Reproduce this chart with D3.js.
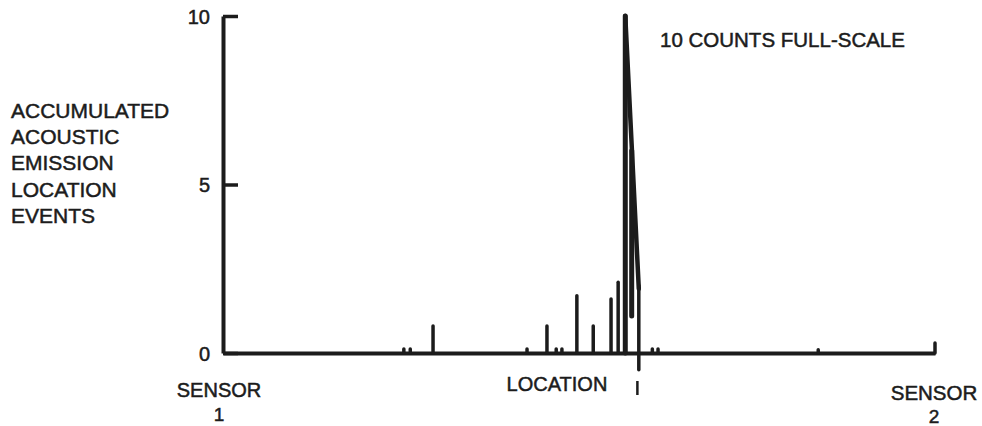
<!DOCTYPE html>
<html>
<head>
<meta charset="utf-8">
<script src="https://cdn.jsdelivr.net/npm/d3@7"></script>
<style>
  body { margin: 0; background: #ffffff; }
  svg text { font-family: "Liberation Sans", Arial, Helvetica, sans-serif; fill: #1c1c1c; stroke: #1c1c1c; stroke-width: 0.5px; }
</style>
</head>
<body>
<div id="chart"></div>
<script>
// location along the pipe, 0 = sensor 1, 100 = sensor 2
var spikeLoc  = [25.4, 26.3, 29.5, 42.7, 45.5, 46.8, 47.6, 49.7, 52.0, 54.5, 55.5, 56.5, 57.4, 58.4, 60.3, 61.1, 83.6, 100];
// accumulated events (top of each spike)
var spikeTop  = [0.12, 0.12, 0.8, 0.12, 0.8, 0.12, 0.12, 1.7, 0.8, 1.6, 2.1, 10, 6.0, 2.0, 0.12, 0.12, 0.1, 0.3];
// bottom of each spike (most start on the baseline)
var spikeBase = [0, 0, 0, 0, 0, 0, 0, 0, 0, 0, 0, 0, 1.1, -0.5, 0, 0, 0, 0];

// outline of the main peak
var envelopeLoc = [56.5, 58.4];
var envelopeVal = [10, 1.9];

var yTicks = [0, 5, 10];
var yTitle = ["ACCUMULATED", "ACOUSTIC", "EMISSION", "LOCATION", "EVENTS"];

var width = 982, height = 426;
var ink = "#1c1c1c";

var svg = d3.select("#chart").append("svg")
  .attr("width", width)
  .attr("height", height);

var x = d3.scaleLinear().domain([0, 100]).range([223, 935]);
var y = d3.scaleLinear().domain([0, 10]).range([353, 16]);

// y axis, ticks point into the plot
var yAxis = d3.axisLeft(y)
  .tickValues(yTicks)
  .tickSizeInner(-15)
  .tickSizeOuter(0)
  .tickPadding(13)
  .tickFormat(d3.format("d"));

var gy = svg.append("g")
  .attr("transform", "translate(" + x(0) + ",0)")
  .call(yAxis);
gy.select(".domain").attr("stroke", ink).attr("stroke-width", 4);
gy.selectAll(".tick line").attr("stroke", ink).attr("stroke-width", 3.5);
gy.selectAll(".tick text")
  .attr("font-size", "20px")
  .attr("dy", "0.36em")
  .style("font-family", "'Liberation Sans', Arial, sans-serif")
  .attr("fill", ink);

// baseline (location axis)
var xAxis = d3.axisBottom(x).tickValues([]).tickSizeOuter(0);
var gx = svg.append("g")
  .attr("transform", "translate(0," + y(0) + ")")
  .call(xAxis);
gx.select(".domain").attr("stroke", ink).attr("stroke-width", 4);

// spikes
svg.append("g").selectAll("line.spike")
  .data(spikeLoc)
  .enter()
  .append("line")
  .attr("class", "spike")
  .attr("x1", function(d) { return x(d); })
  .attr("x2", function(d) { return x(d); })
  .attr("y1", function(d, i) { return y(spikeBase[i]); })
  .attr("y2", function(d, i) { return y(spikeTop[i]); })
  .attr("stroke", ink)
  .attr("stroke-width", function(d, i) { return spikeTop[i] >= 5 ? 5 : 3.5; })
  .attr("stroke-linecap", "round");

// peak outline
var line = d3.line()
  .x(function(d) { return x(d); })
  .y(function(d, i) { return y(envelopeVal[i]); });
svg.append("path")
  .datum(envelopeLoc)
  .attr("d", line)
  .attr("fill", "none")
  .attr("stroke", ink)
  .attr("stroke-width", 4.5)
  .attr("stroke-linecap", "round");

// marker under the peak
svg.append("line")
  .attr("x1", x(58.2)).attr("x2", x(58.2))
  .attr("y1", 381).attr("y2", 395)
  .attr("stroke", ink).attr("stroke-width", 2.5);

// y title
svg.append("g").selectAll("text")
  .data(yTitle)
  .enter()
  .append("text")
  .attr("x", 11)
  .attr("y", function(d, i) { return 118 + i * 26.2; })
  .attr("font-size", "21px")
  .text(function(d) { return d; });

svg.append("text")
  .attr("x", 660).attr("y", 47)
  .attr("font-size", "20.5px")
  .text("10 COUNTS FULL-SCALE");

svg.append("text")
  .attr("x", 219).attr("y", 397)
  .attr("text-anchor", "middle")
  .attr("font-size", "20px")
  .text("SENSOR");
svg.append("text")
  .attr("x", 219).attr("y", 421)
  .attr("text-anchor", "middle")
  .attr("font-size", "19px")
  .text("1");

svg.append("text")
  .attr("x", 557).attr("y", 391)
  .attr("text-anchor", "middle")
  .attr("font-size", "20px")
  .text("LOCATION");

svg.append("text")
  .attr("x", 934).attr("y", 400)
  .attr("text-anchor", "middle")
  .attr("font-size", "20.5px")
  .text("SENSOR");
svg.append("text")
  .attr("x", 934).attr("y", 423)
  .attr("text-anchor", "middle")
  .attr("font-size", "19px")
  .text("2");
</script>
</body>
</html>
